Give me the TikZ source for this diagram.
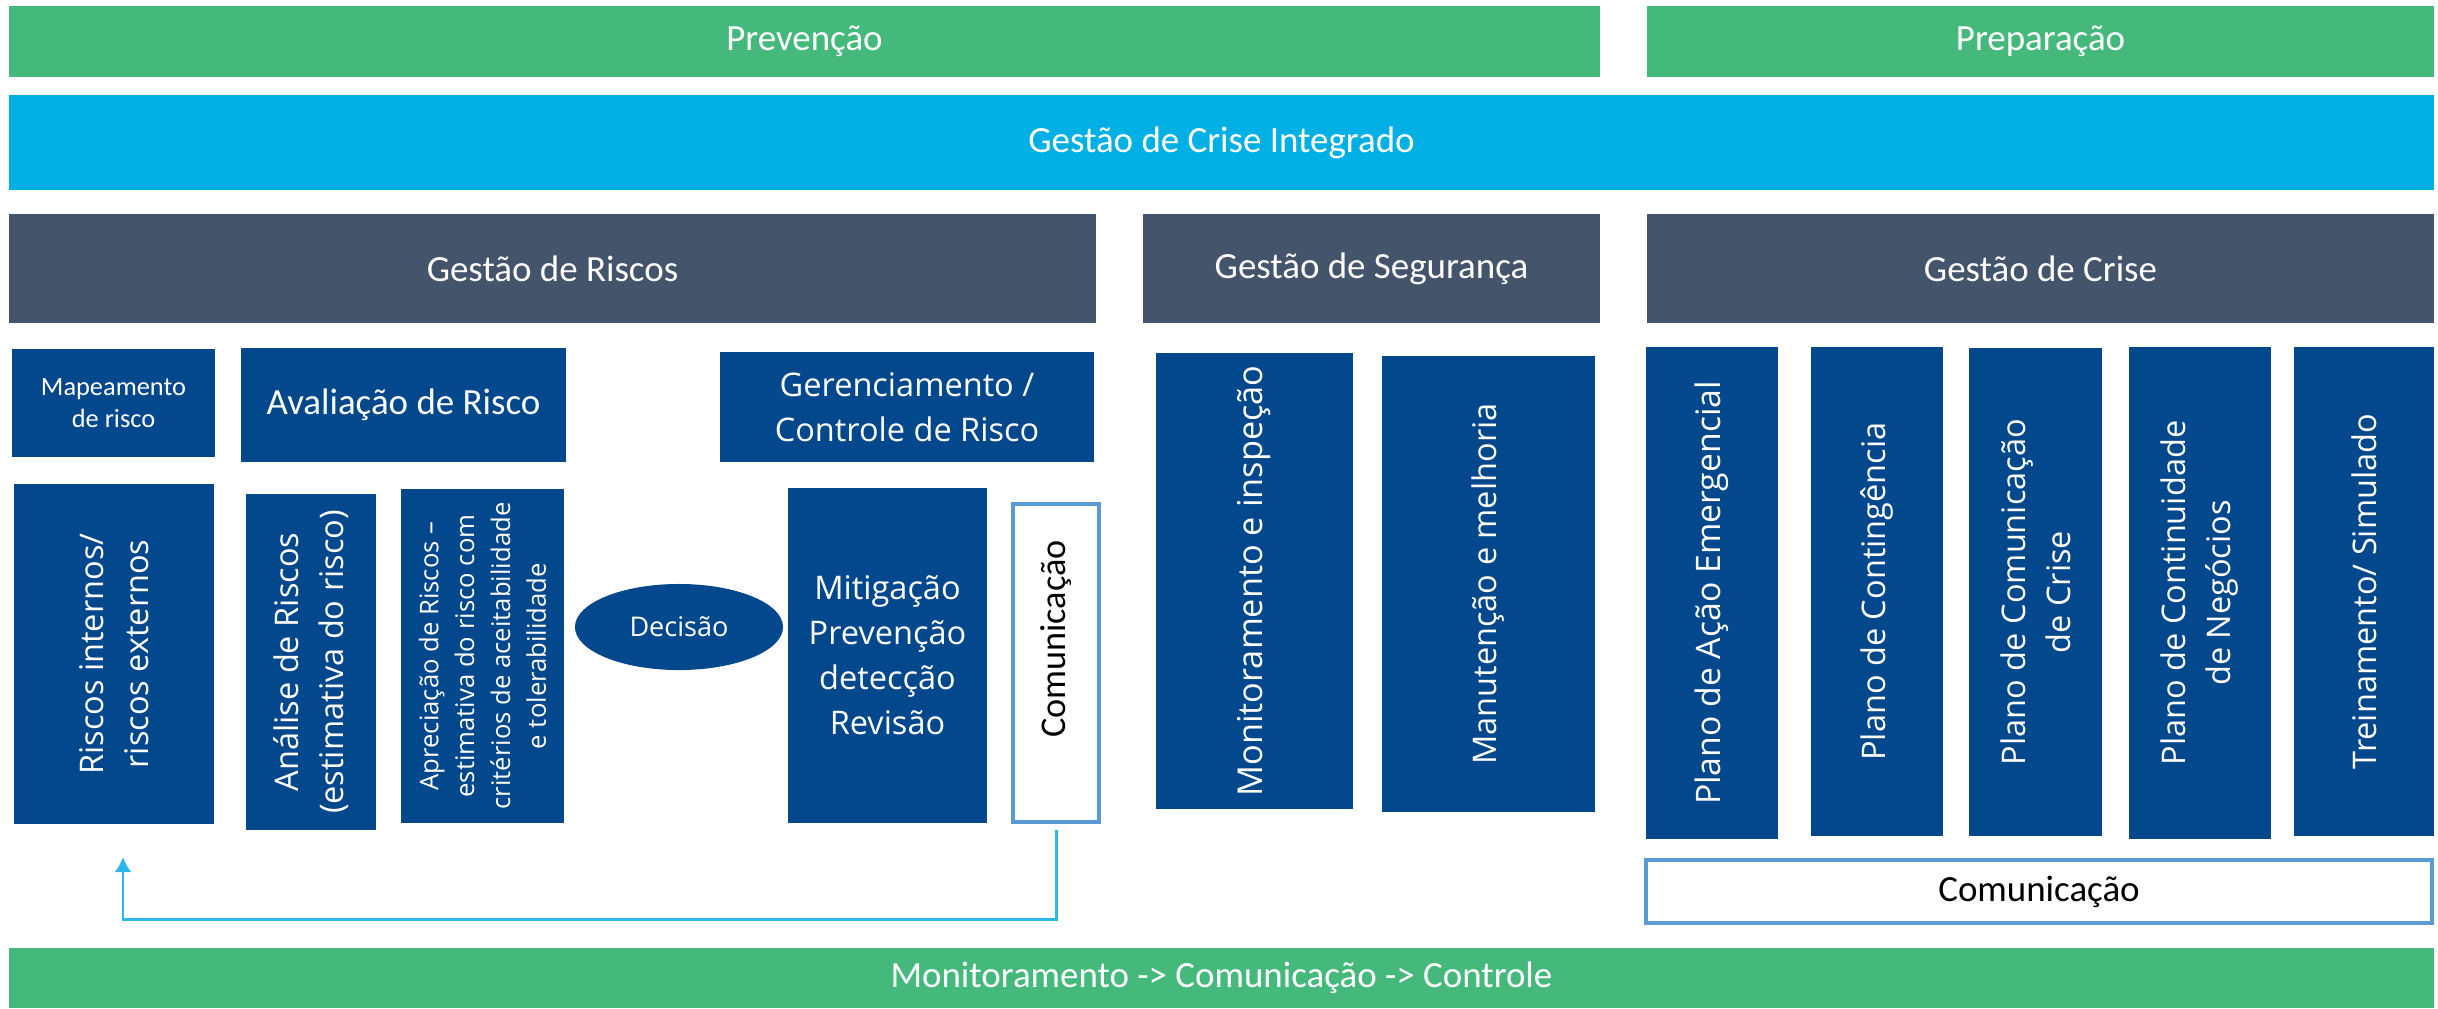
\documentclass[tikz,border=0pt]{standalone}
\usepackage{fontspec}
\setmainfont{Carlito}
\newfontfamily\osans{Open Sans}
\usetikzlibrary{arrows.meta,shapes.geometric}
\definecolor{cgreen}{RGB}{69,185,124}
\definecolor{cblue}{RGB}{0,176,228}
\definecolor{cslate}{RGB}{68,84,106}
\definecolor{cnavy}{RGB}{3,71,140}
\definecolor{coutline}{RGB}{91,155,213}
\definecolor{carrow}{RGB}{45,182,236}
\newcommand\HB[7]{\node[#1, minimum width={(#5-#3)*0.01cm}, minimum height={(#6-#4)*0.01cm}] (#2) at ({(#3+#5)/2},{(#4+#6)/2}) {#7};}
\newcommand\VB[7]{\node[#1, rotate=90, minimum height={(#5-#3)*0.01cm}, minimum width={(#6-#4)*0.01cm}] (#2) at ({(#3+#5)/2},{(#4+#6)/2}) {#7};}
\tikzset{
  base/.style={rectangle, inner sep=0pt, outer sep=0pt, align=center},
  hdr/.style={font=\fontsize{10.5}{12.6}\selectfont},
  gbar/.style={base, hdr, fill=cgreen, text=white},
  bbar/.style={base, hdr, fill=cblue, text=white},
  sbar/.style={base, hdr, fill=cslate, text=white},
  nbox/.style={base, fill=cnavy, text=white},
  vtxt/.style={font=\osans\fontsize{9.25}{12.8}\selectfont},
  obox/.style={base, fill=white, draw=coutline, line width=1.1pt, text=black},
  fb/.style={draw=carrow, line width=0.85pt},
}
\begin{document}
\begin{tikzpicture}[x=0.01cm,y=-0.01cm]
\useasboundingbox (0,0) rectangle (2438,1008);
% top bars
\HB{gbar}{prev}{9}{6}{1600}{77}{Prevenção}
\HB{gbar}{prep}{1647}{6}{2434}{77}{Preparação}
\HB{bbar}{gci}{9}{95}{2434}{190}{Gestão de Crise Integrado}
\HB{sbar}{gdr}{9}{214}{1096}{323}{Gestão de Riscos}
\HB{sbar}{gds}{1143}{214}{1600}{323}{Gestão de Segurança}
\HB{sbar}{gdc}{1647}{214}{2434}{323}{Gestão de Crise}
% risk management headers
\HB{nbox, font=\fontsize{7.5}{9}\selectfont}{map}{12}{349}{215}{457}{Mapeamento\\de risco}
\HB{nbox, hdr}{aval}{241}{348}{566}{462}{Avaliação de Risco}
\HB{nbox, vtxt}{ger}{720}{352}{1094}{462}{Gerenciamento /\\Controle de Risco}
% risk columns
\VB{nbox, vtxt}{rie}{14}{484}{214}{824}{Riscos internos/\\riscos externos}
\VB{nbox, vtxt}{ana}{246}{494}{376}{830}{Análise de Riscos\\(estimativa do risco)}
\VB{nbox, font=\osans\fontsize{7.3}{10.2}\selectfont}{apr}{401}{489}{564}{823}{Apreciação de Riscos –\\estimativa do risco com\\critérios de aceitabilidade\\e tolerabilidade}
\node[ellipse, fill=cnavy, text=white, inner sep=0pt, minimum width=2.08cm, minimum height=0.86cm, font=\osans\fontsize{7.7}{9}\selectfont] (dec) at (679,627) {Decisão};
\HB{nbox, vtxt}{mit}{788}{488}{987}{823}{Mitigação\\Prevenção\\detecção\\Revisão}
\HB{obox}{comv}{1013}{504}{1099}{822}{}
\node[rotate=90, inner sep=0pt, font=\fontsize{10.3}{12}\selectfont] (comvt) at (1056,639) {Comunicação};
% security
\VB{nbox, font=\osans\fontsize{9.75}{12.8}\selectfont}{mon}{1156}{353}{1353}{809}{Monitoramento e inspeção}
\VB{nbox, vtxt}{man}{1382}{356}{1595}{812}{Manutenção e melhoria}
% crisis
\VB{nbox, font=\osans\fontsize{9.6}{12.8}\selectfont}{pae}{1646}{347}{1778}{839}{Plano de Ação Emergencial}
\VB{nbox, vtxt}{pc}{1811}{347}{1943}{836}{Plano de Contingência}
\VB{nbox, vtxt}{pcc}{1969}{348}{2102}{836}{Plano de Comunicação\\de Crise}
\VB{nbox, vtxt}{pcn}{2129}{347}{2271}{839}{Plano de Continuidade\\de Negócios}
\VB{nbox, vtxt}{tre}{2294}{347}{2434}{836}{Treinamento/ Simulado}
\HB{obox, hdr}{comb}{1646}{860}{2432}{923}{Comunicação}
% bottom bar
\HB{gbar}{mcc}{9}{948}{2434}{1008}{Monitoramento -> Comunicação -> Controle}
% feedback arrow
\coordinate (arrC) at (123,919);
\coordinate (arrE) at (123,857);
\draw[fb, -{Latex[length=1.5mm,width=1.7mm]}] ([yshift=-0.08cm]comv.south) |- (arrC) -- (arrE);
\end{tikzpicture}
\end{document}
